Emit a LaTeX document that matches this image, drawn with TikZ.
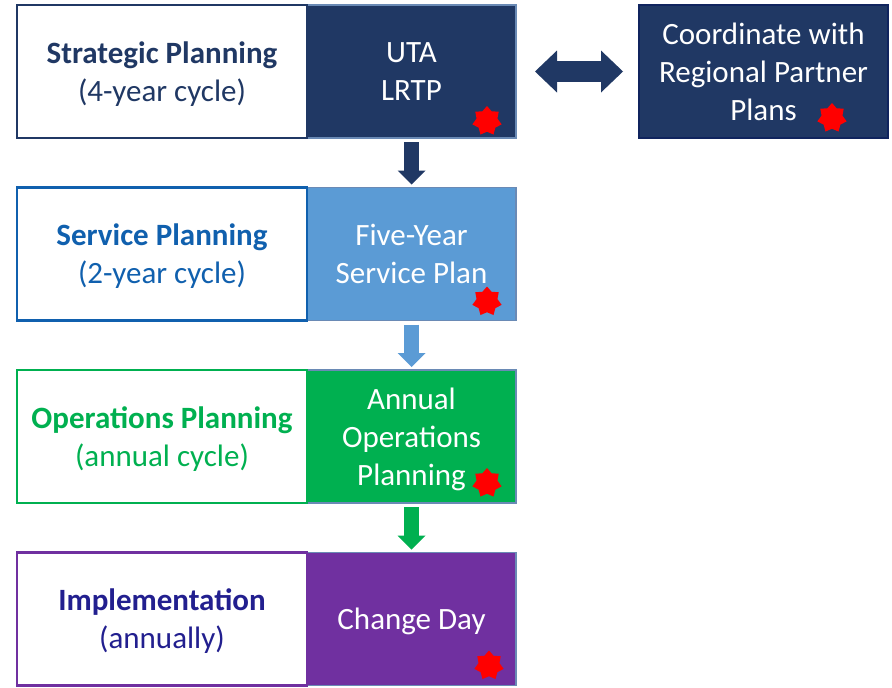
\documentclass[tikz,border=0pt]{standalone}
\usepackage{fontspec}
\setmainfont{Carlito}
\usetikzlibrary{positioning,calc,shapes.geometric,arrows.meta}
\definecolor{navy}{HTML}{203864}
\definecolor{rim}{HTML}{6A8AB5}
\definecolor{coordrim}{HTML}{10245E}
\definecolor{midblue}{HTML}{5B9BD5}
\definecolor{servblue}{HTML}{1060AE}
\definecolor{opsgreen}{HTML}{00B050}
\definecolor{purple}{HTML}{7030A0}
\definecolor{impltext}{HTML}{221F8F}
\tikzset{
  lbox/.style={draw=#1, text=#1, line width=2.5pt, fill=white, minimum width=290pt,
    minimum height=133pt, align=center, inner sep=0pt, outer sep=0pt,
    text depth=-6pt, font=\fontsize{31}{38}\selectfont},
  rbox/.style={draw=rim, fill=#1, text=white, line width=1.5pt, minimum width=209pt,
    minimum height=133pt, align=center, inner sep=0pt, outer sep=0pt,
    text depth=-6pt, font=\fontsize{31}{38}\selectfont},
  redstar/.style={star, star points=7, star point ratio=1.4, minimum size=30pt,
    fill=red, inner sep=0pt},
  downarrow/.style={draw=#1, line width=15pt, shorten <=4pt, shorten >=3pt,
    -{Triangle[width=28pt,length=14pt,line width=0pt]}}
}
\begin{document}
\begin{tikzpicture}[x=1pt, y=-1pt, node distance=49.5pt]
  \useasboundingbox (0,0) rectangle (892,688);

  % right column
  \node[rbox=navy] (lrtp) at (411.5,71.5) {UTA\\LRTP};
  \node[rbox=midblue, below=of lrtp] (fysp) {Five-Year\\Service Plan};
  \node[rbox=opsgreen, below=of fysp] (aop) {Annual\\Operations\\Planning};
  \node[rbox=purple, below=of aop] (cday) {Change Day};

  % left column
  \node[lbox=navy, left=0pt of lrtp] (strat) {\textbf{Strategic Planning}\\(4-year cycle)};
  \node[lbox=servblue, left=0pt of fysp] (serv) {\textbf{Service Planning}\\(2-year cycle)};
  \node[lbox=opsgreen, left=0pt of aop] (ops) {\textbf{Operations Planning}\\(annual cycle)};
  \node[lbox=impltext, left=0pt of cday, draw=purple] (impl) {\textbf{Implementation}\\(annually)};

  \node[draw=coordrim, fill=navy, text=white, line width=2.5pt, minimum width=249pt,
    minimum height=133pt, align=center, inner sep=0pt, outer sep=0pt, text depth=-6pt,
    font=\fontsize{31}{38}\selectfont] (coord) at (763.5,71.5)
    {Coordinate with\\Regional Partner\\Plans};

  % stars
  \node[redstar] (st1) at ($(lrtp.south east)+(-29,-17)$) {};
  \node[redstar] (st2) at ($(fysp.south east)+(-29,-19)$) {};
  \node[redstar] (st3) at ($(aop.south east)+(-29,-20)$) {};
  \node[redstar] (st4) at ($(cday.south east)+(-27,-20)$) {};
  \node[redstar] (st5) at ($(coord.south east)+(-56,-20)$) {};

  % arrows
  \draw[downarrow=navy] (lrtp.south) -- (fysp.north);
  \draw[downarrow=midblue] (fysp.south) -- (aop.north);
  \draw[downarrow=opsgreen] (aop.south) -- (cday.north);
  \draw[navy, line width=21pt, shorten <=19pt, shorten >=16pt,
    {Triangle[width=42pt,length=22pt,line width=0pt]}-{Triangle[width=42pt,length=22pt,line width=0pt]}]
    (lrtp.east) -- (coord.west);
\end{tikzpicture}
\end{document}
